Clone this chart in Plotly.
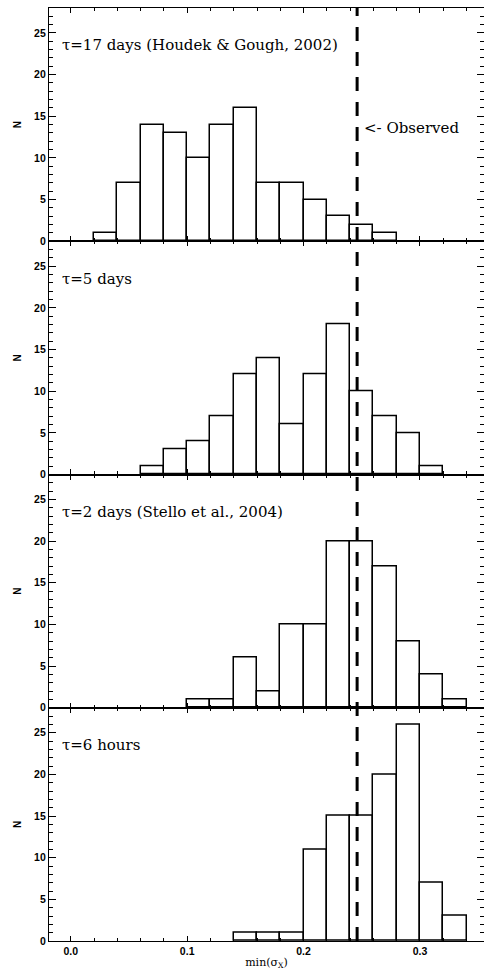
import plotly.graph_objects as go
from plotly.subplots import make_subplots

bin_width = 0.02
observed = 0.246

labels = ["τ=17 days (Houdek & Gough, 2002)", "τ=5 days",
          "τ=2 days (Stello et al., 2004)", "τ=6 hours"]

starts_17d = [0.02, 0.04, 0.06, 0.08, 0.10, 0.12, 0.14, 0.16, 0.18, 0.20, 0.22, 0.24, 0.26]
counts_17d = [1, 7, 14, 13, 10, 14, 16, 7, 7, 5, 3, 2, 1]

starts_5d = [0.06, 0.08, 0.10, 0.12, 0.14, 0.16, 0.18, 0.20, 0.22, 0.24, 0.26, 0.28, 0.30]
counts_5d = [1, 3, 4, 7, 12, 14, 6, 12, 18, 10, 7, 5, 1]

starts_2d = [0.10, 0.12, 0.14, 0.16, 0.18, 0.20, 0.22, 0.24, 0.26, 0.28, 0.30, 0.32]
counts_2d = [1, 1, 6, 2, 10, 10, 20, 20, 17, 8, 4, 1]

starts_6h = [0.14, 0.16, 0.18, 0.20, 0.22, 0.24, 0.26, 0.28, 0.30, 0.32]
counts_6h = [1, 1, 1, 11, 15, 15, 20, 26, 7, 3]

x_ticks = [0.0, 0.1, 0.2, 0.3]
x_ticklabels = ["0.0", "0.1", "0.2", "0.3"]
y_ticks = [0, 5, 10, 15, 20, 25]

panels = [(starts_17d, counts_17d), (starts_5d, counts_5d),
          (starts_2d, counts_2d), (starts_6h, counts_6h)]

tick_font = dict(family="Liberation Sans", size=10.5, color="black", weight="bold")

fig = make_subplots(rows=4, cols=1, shared_xaxes=True, vertical_spacing=0)

for i, (st, ct) in enumerate(panels, start=1):
    fig.add_trace(go.Bar(x=st, y=ct, width=bin_width, offset=0,
                         marker=dict(color="white", line=dict(color="black", width=1.5)),
                         showlegend=False), row=i, col=1)
    fig.update_yaxes(range=[0, 28], tickvals=y_ticks, ticks="inside", ticklen=7,
                     tickwidth=1.2, tickcolor="black",
                     minor=dict(dtick=1, ticks="inside", ticklen=4, tickcolor="black", tickwidth=1),
                     showline=True, linecolor="black", linewidth=1.2, mirror="allticks",
                     showgrid=False, zeroline=False, automargin=False,
                     tickfont=tick_font,
                     title=dict(text="N", standoff=10,
                                font=dict(family="Liberation Sans", size=10, color="black", weight="bold")),
                     row=i, col=1)
    fig.update_xaxes(range=[-0.0187, 0.355], tickvals=x_ticks, ticktext=x_ticklabels,
                     ticks="inside", ticklen=5, tickwidth=1.2, tickcolor="black",
                     minor=dict(dtick=0.02, ticks="inside", ticklen=3, tickcolor="black", tickwidth=1),
                     showline=True, linecolor="black", linewidth=1.2, mirror="allticks",
                     showgrid=False, zeroline=False, automargin=False,
                     showticklabels=(i == 4),
                     tickfont=tick_font,
                     row=i, col=1)
    yref = "y domain" if i == 1 else f"y{i} domain"
    xref = "x domain" if i == 1 else f"x{i} domain"
    fig.add_annotation(text=labels[i - 1], xref=xref, yref=yref, x=0.026, y=0.84,
                       xanchor="left", yanchor="middle", showarrow=False,
                       font=dict(family="DejaVu Serif", size=15, color="black"))

fig.update_xaxes(title=dict(text="min(σ<sub>X</sub>)", standoff=2,
                            font=dict(family="DejaVu Serif", size=11, color="black")),
                 row=4, col=1)

fig.add_annotation(text="<- Observed", xref="x domain", yref="y domain", x=0.72, y=0.486,
                   xanchor="left", yanchor="middle", showarrow=False,
                   font=dict(family="DejaVu Serif", size=15, color="black"))

fig.add_shape(type="line", xref="x", yref="paper", x0=observed, x1=observed, y0=0, y1=1,
              line=dict(color="black", width=3, dash="14px,11px"))

fig.update_layout(width=484, height=980, margin=dict(l=49, r=0, t=8, b=39, autoexpand=False),
                  plot_bgcolor="white", paper_bgcolor="white", bargap=0)

fig.write_html("out.html", config={"displayModeBar": False},
               post_script="document.body.style.margin='0';document.body.style.overflow='hidden';")
